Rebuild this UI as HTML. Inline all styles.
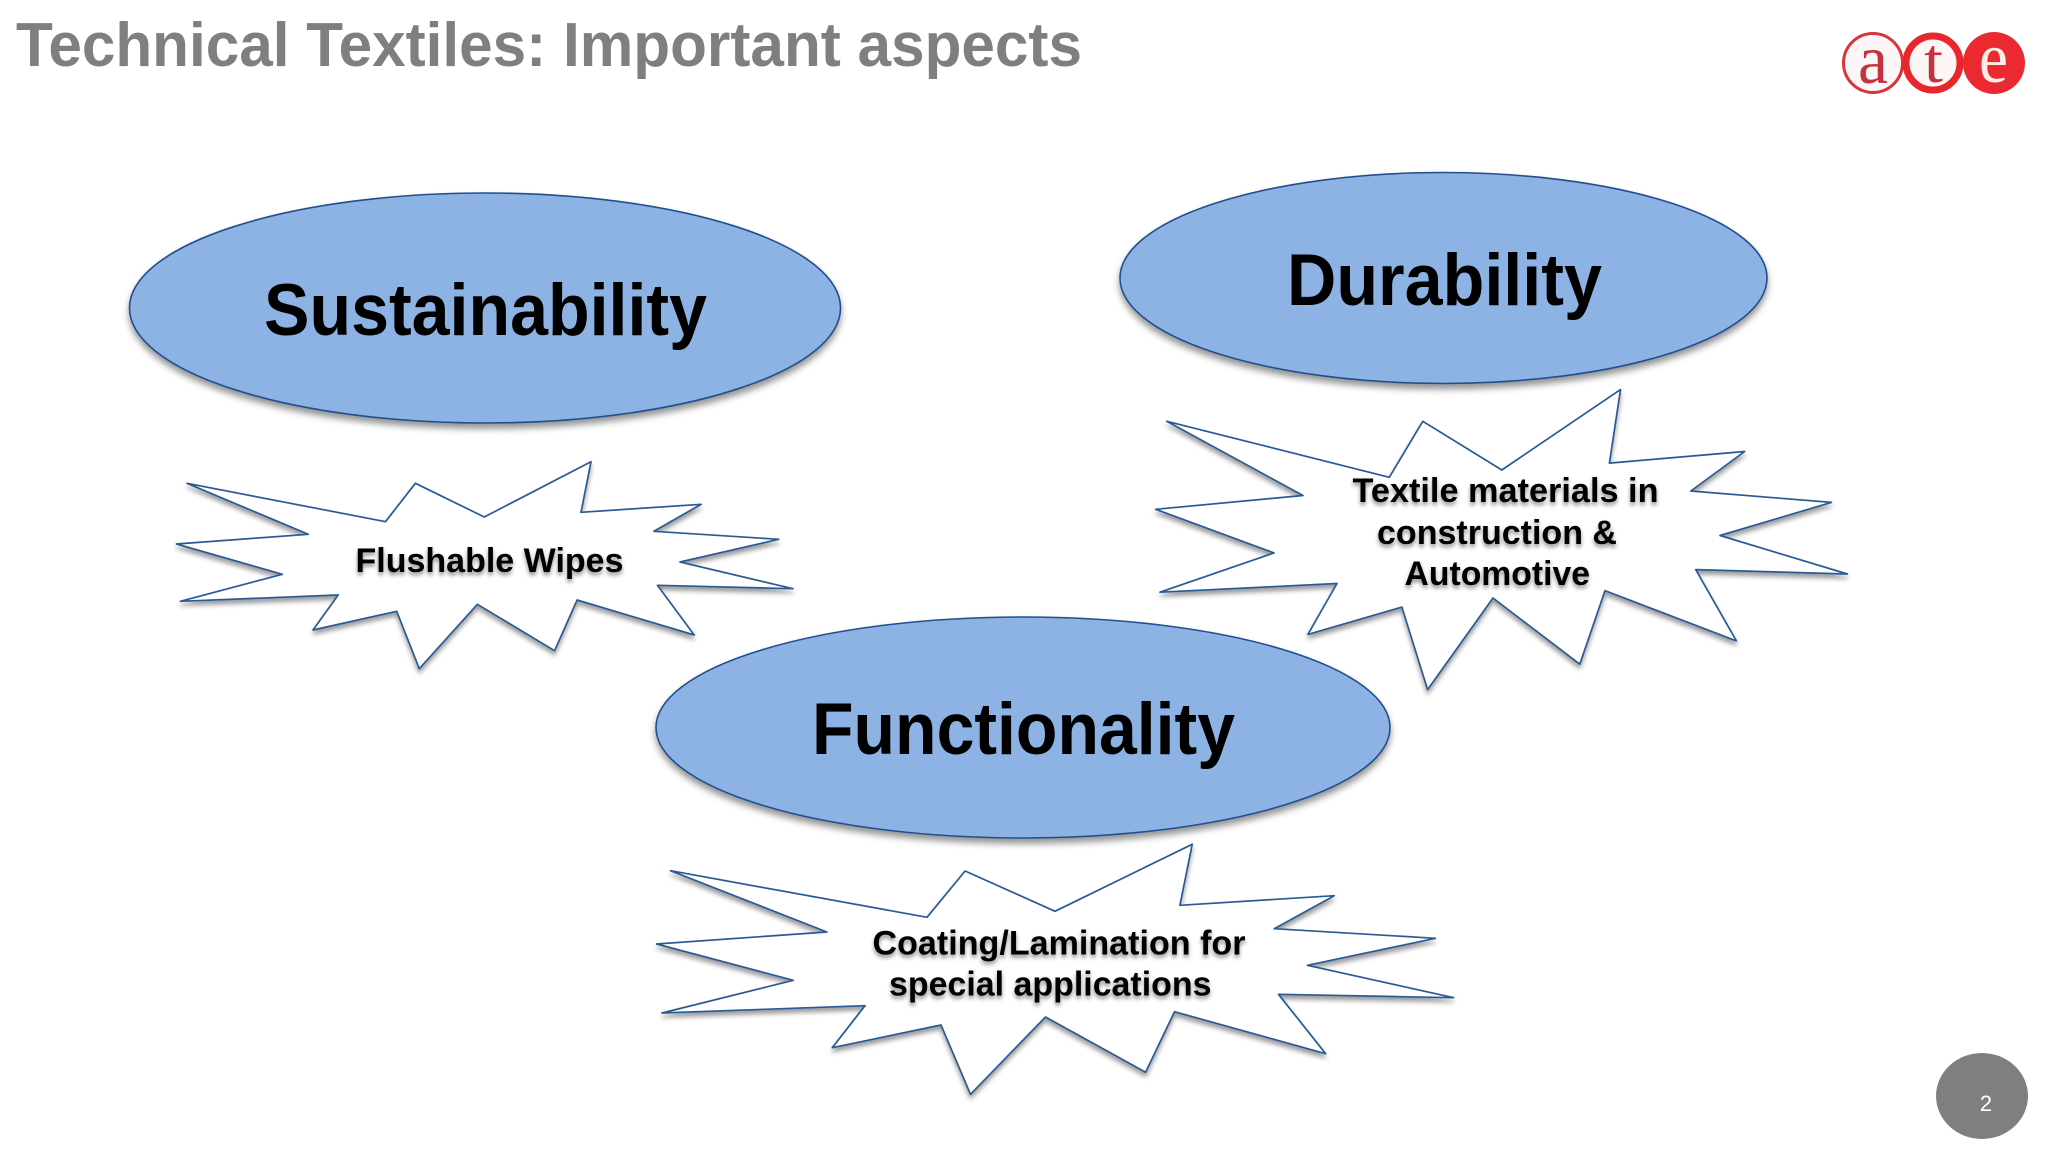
<!DOCTYPE html>
<html lang="en">
<head>
<meta charset="utf-8">
<title>Technical Textiles: Important aspects</title>
<style>
html,body{margin:0;padding:0;background:#fff;}
svg{display:block;}
text{font-family:"Liberation Sans",sans-serif;font-weight:bold;}
.burst{fill:#fff;stroke:#2a5a94;stroke-width:1.7;stroke-linejoin:round;filter:url(#sh2);}
.ell{fill:#8db2e4;stroke:#21508c;stroke-width:1.6;filter:url(#sh);}
.big{font-size:73px;fill:#000;}
.sm{font-size:34px;fill:#000;filter:url(#ts);}
</style>
</head>
<body>
<svg width="2048" height="1152" viewBox="0 0 2048 1152" xmlns="http://www.w3.org/2000/svg">
<defs>
<filter id="sh" x="-10%" y="-10%" width="120%" height="125%">
<feDropShadow dx="0" dy="5" stdDeviation="3.5" flood-color="#000" flood-opacity=".42"/>
</filter>
<filter id="sh2" x="-10%" y="-10%" width="120%" height="125%">
<feDropShadow dx="0" dy="4" stdDeviation="2.5" flood-color="#000" flood-opacity=".38"/>
</filter>
<filter id="ts" x="-10%" y="-30%" width="120%" height="170%">
<feDropShadow dx="0" dy="3" stdDeviation="2" flood-color="#000" flood-opacity=".45"/>
</filter>
</defs>
<rect width="2048" height="1152" fill="#fff"/>

<text x="16" y="66" font-size="62" fill="#7f7f7f" textLength="1066" lengthAdjust="spacingAndGlyphs">Technical Textiles: Important aspects</text>

<!-- logo -->
<circle cx="1873" cy="63" r="29.5" fill="#fdf6f6" stroke="#d9343c" stroke-width="3"/>
<circle cx="1933" cy="63" r="27" fill="#fdf6f6" stroke="#e8262e" stroke-width="7"/>
<circle cx="1994" cy="63" r="31" fill="#ea2a30"/>
<text x="1858" y="83" style="font-family:'Liberation Serif',serif;font-weight:normal" font-size="70" fill="#c2333f" textLength="30" lengthAdjust="spacingAndGlyphs">a</text>
<text x="1924" y="82" style="font-family:'Liberation Serif',serif;font-weight:normal" font-size="64" fill="#c2333f" textLength="19" lengthAdjust="spacingAndGlyphs">t</text>
<text x="1979" y="82" style="font-family:'Liberation Serif',serif;font-weight:normal" font-size="72" fill="#fbeee6" textLength="29" lengthAdjust="spacingAndGlyphs">e</text>

<!-- Sustainability -->
<ellipse class="ell" cx="485" cy="308" rx="355.5" ry="115"/>
<text class="big" x="264" y="335" textLength="443" lengthAdjust="spacingAndGlyphs">Sustainability</text>

<!-- Durability -->
<ellipse class="ell" cx="1443.5" cy="278" rx="323.5" ry="105.5"/>
<text class="big" x="1287" y="305" textLength="315" lengthAdjust="spacingAndGlyphs">Durability</text>

<!-- burst 1 -->
<polygon class="burst" points="187,483.3 385.5,521.7 415.4,483.3 484.3,517 591,461.7 581,512.3 701.2,504.3 653.9,531.3 778.8,539.3 680,562 793,588.7 657.4,585.3 694.2,635 577.1,600 554.6,650.7 477.4,604.3 419.3,668.7 396.7,611.3 313,630 338.2,595 180.4,601.3 282.3,574.3 176.5,544 308.3,534.3"/>
<text class="sm" x="355.5" y="572" textLength="268" lengthAdjust="spacingAndGlyphs">Flushable Wipes</text>

<!-- burst 2 -->
<polygon class="burst" points="1166.8,421.3 1389.3,477.3 1422.8,421.3 1501.8,470 1620.5,389.6 1609.4,463.1 1744.6,451.5 1690.8,491 1831.4,502.4 1720,535.5 1847.4,574 1695.7,569.6 1736.4,640.9 1605,590.7 1579.8,664.2 1493,598 1427.6,689.6 1401.9,607.1 1307.9,634.4 1337,583.5 1160,592.2 1274,552.9 1155.7,509.3 1303,495.5"/>
<text class="sm" x="1352.5" y="502" textLength="306" lengthAdjust="spacingAndGlyphs">Textile materials in</text>
<text class="sm" x="1377" y="544" textLength="240" lengthAdjust="spacingAndGlyphs">construction &amp;</text>
<text class="sm" x="1404.5" y="585" textLength="185.5" lengthAdjust="spacingAndGlyphs">Automotive</text>

<!-- Functionality -->
<ellipse class="ell" cx="1023" cy="727.5" rx="367" ry="110.5"/>
<text class="big" x="812" y="754" textLength="423" lengthAdjust="spacingAndGlyphs">Functionality</text>

<!-- burst 3 -->
<polygon class="burst" points="670.5,870.7 927,917.3 965.1,871 1055,911.3 1192.2,844.3 1179.9,905.3 1334.2,895.7 1274.2,928.7 1435.4,938.3 1307.4,965.3 1453.6,997.7 1278.5,994.3 1325.6,1053.7 1174.5,1011.7 1145.6,1072.3 1045.5,1017 970.5,1094.3 941,1025 832.3,1047.7 865,1005.7 662,1013 793.2,980.3 656.6,944 826.9,932"/>
<text class="sm" x="872.5" y="954.5" textLength="373" lengthAdjust="spacingAndGlyphs">Coating/Lamination for</text>
<text class="sm" x="889" y="995.5" textLength="322.5" lengthAdjust="spacingAndGlyphs">special applications</text>

<!-- page number -->
<ellipse cx="1982" cy="1096" rx="46" ry="43" fill="#7f7f7f"/>
<text x="1986" y="1111" text-anchor="middle" style="font-weight:normal" font-size="22" fill="#ffffff">2</text>
</svg>
</body>
</html>
